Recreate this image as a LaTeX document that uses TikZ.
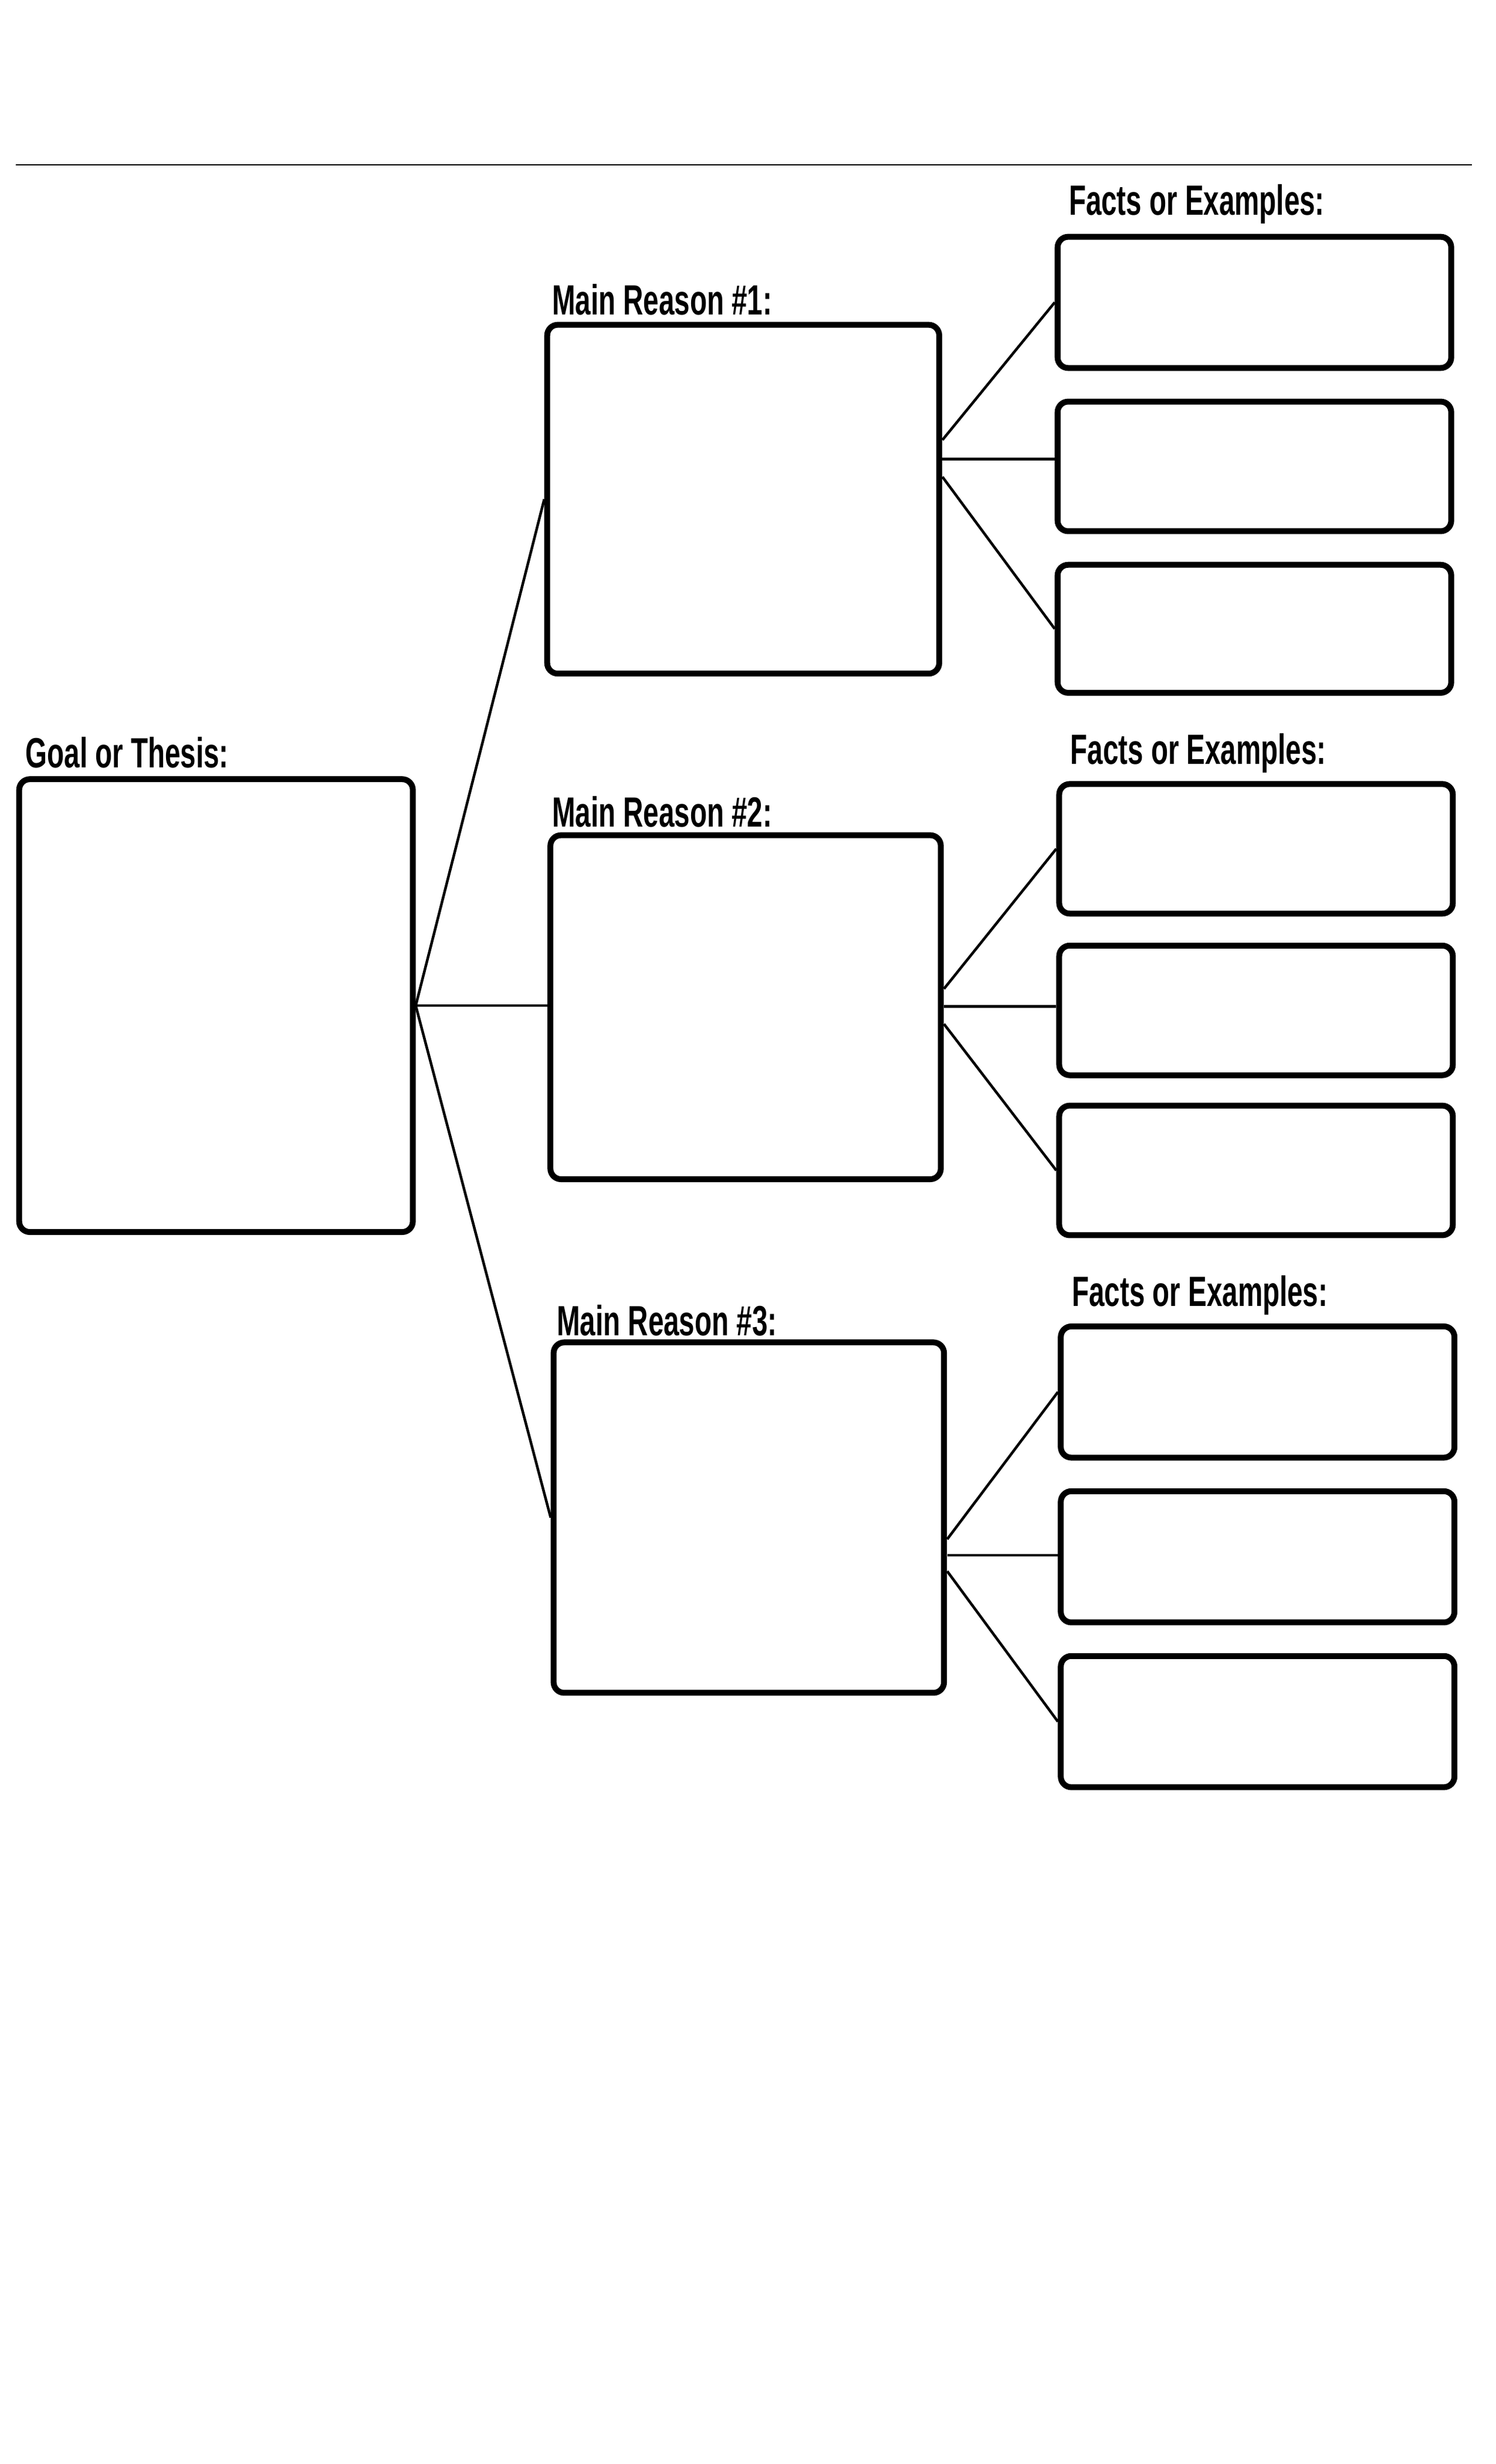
\documentclass[tikz,border=0pt]{standalone}
\usepackage{fontspec}
\setmainfont{Liberation Sans}
\usetikzlibrary{fit}
\begin{document}
\begin{tikzpicture}[x=2.727pt,y=-2.727pt,
  box/.style={draw, line width=10pt, rounded corners=18pt, inner sep=0pt},
  conn/.style={line width=4.5pt},
  lbl/.style={anchor=south west, inner sep=0pt, font=\fontsize{72}{80}\selectfont\bfseries}]
\useasboundingbox (0,0) rectangle (935,1540);
\draw[line width=2.5pt] (10,103) -- (920,103);
\newcommand\bx[5]{\node[box, fit={(#2,#3) (#4,#5)}] (#1) {};}
\newcommand\lb[4]{\node[lbl] (#1) at (#2,#3) {\scalebox{0.66}[1]{#4}};}
\bx{goal}{12}{487}{258}{770}
\bx{m1}{342}{203}{587}{421}
\bx{m2}{344}{522}{588}{737}
\bx{m3}{346}{839}{590}{1058}
\bx{f11}{661}{148}{907}{230}
\bx{f12}{661}{251}{907}{332}
\bx{f13}{661}{353}{907}{433}
\bx{f21}{662}{490}{908}{571}
\bx{f22}{662}{591}{908}{672}
\bx{f23}{662}{691}{908}{772}
\bx{f31}{663}{829}{909}{911}
\bx{f32}{663}{932}{909}{1014}
\bx{f33}{663}{1035}{909}{1117}
\lb{lg}{16}{480}{Goal or Thesis:}
\lb{l1}{345}{197}{Main Reason \#1:}
\lb{l2}{345}{517}{Main Reason \#2:}
\lb{l3}{348}{835}{Main Reason \#3:}
\lb{lf1}{668}{140}{Facts or Examples:}
\lb{lf2}{669}{483}{Facts or Examples:}
\lb{lf3}{670}{822}{Facts or Examples:}
\coordinate (g) at (goal.east);
\draw[conn] (g) -- (m1.west);
\draw[conn] (g) -- (g -| m2.west);
\draw[conn] (g) -- (m3.west);
\coordinate (a1) at (589,275); \coordinate (a2) at (589,287); \coordinate (a3) at (589,298);
\draw[conn] (a1) -- (f11.west); \draw[conn] (a2) -- (a2 -| f12.west); \draw[conn] (a3) -- (f13.west);
\coordinate (b1) at (590,618); \coordinate (b2) at (590,629); \coordinate (b3) at (590,640);
\draw[conn] (b1) -- (f21.west); \draw[conn] (b2) -- (b2 -| f22.west); \draw[conn] (b3) -- (f23.west);
\coordinate (c1) at (592,962); \coordinate (c2) at (592,972); \coordinate (c3) at (592,982);
\draw[conn] (c1) -- (f31.west); \draw[conn] (c2) -- (c2 -| f32.west); \draw[conn] (c3) -- (f33.west);
\end{tikzpicture}
\end{document}
